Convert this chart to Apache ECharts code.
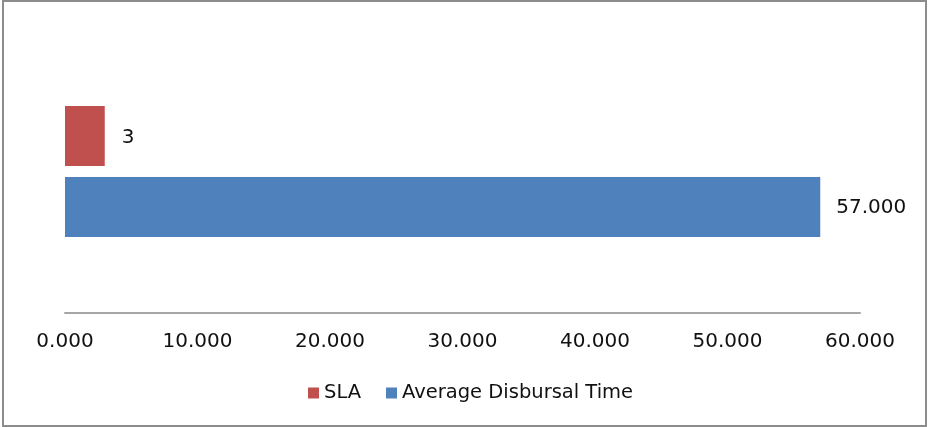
<!DOCTYPE html>
<html><head><meta charset="utf-8">
<script src="https://cdn.jsdelivr.net/npm/echarts@6/dist/echarts.min.js"></script>
<style>
html,body{margin:0;padding:0;background:#fff;}
#wrap{position:relative;width:929px;height:427px;overflow:hidden;}
#chart{position:absolute;left:0;top:0;width:929px;height:427px;}
#frame{position:absolute;left:2px;top:0;width:921px;height:423px;border:2px solid #8c8c8c;pointer-events:none;}
</style></head>
<body><div id="wrap"><div id="chart"></div><div id="frame"></div></div>
<script>
const categories = [''];
const seriesNames = ['SLA', 'Average Disbursal Time'];
const slaValues = [3];
const avgValues = [57];
const xTicks = { min: 0, max: 60, interval: 10 };

const FONT = '"DejaVu Sans", Verdana, sans-serif';
const chart = echarts.init(document.getElementById('chart'), null, {renderer: 'canvas'});
chart.setOption({
  animation: false,
  textStyle: {fontFamily: FONT},
  grid: {left: 65, right: 69, top: 30, bottom: 114},
  legend: {
    data: seriesNames, left: 303, top: 378,
    itemWidth: 11, itemHeight: 11, itemGap: 25, icon: 'rect',
    textStyle: {fontFamily: FONT, fontSize: 19.5, color: '#111'}
  },
  xAxis: {
    type: 'value', min: xTicks.min, max: xTicks.max, interval: xTicks.interval,
    axisLine: {show: true, lineStyle: {color: '#a6a6a6', width: 2}},
    axisTick: {show: false}, splitLine: {show: false},
    axisLabel: {margin: 19, fontFamily: FONT, fontSize: 20, color: '#111',
      formatter: v => v.toFixed(3)}
  },
  yAxis: {
    type: 'category', data: categories, inverse: true,
    axisLine: {show: false}, axisTick: {show: false}, axisLabel: {show: false}
  },
  series: [
    {name: seriesNames[0], type: 'bar', data: slaValues, barWidth: 60, barGap: '18%',
     itemStyle: {color: '#C0504D'},
     label: {show: true, position: 'right', distance: 17, offset: [0, 2], fontFamily: FONT, fontSize: 20, color: '#111',
       formatter: p => String(p.value)}},
    {name: seriesNames[1], type: 'bar', data: avgValues, barWidth: 60, barGap: '18%',
     itemStyle: {color: '#4F81BD'},
     label: {show: true, position: 'right', distance: 16, offset: [0, 1], fontFamily: FONT, fontSize: 20, color: '#111',
       formatter: p => p.value.toFixed(3)}}
  ]
});
</script></body></html>
